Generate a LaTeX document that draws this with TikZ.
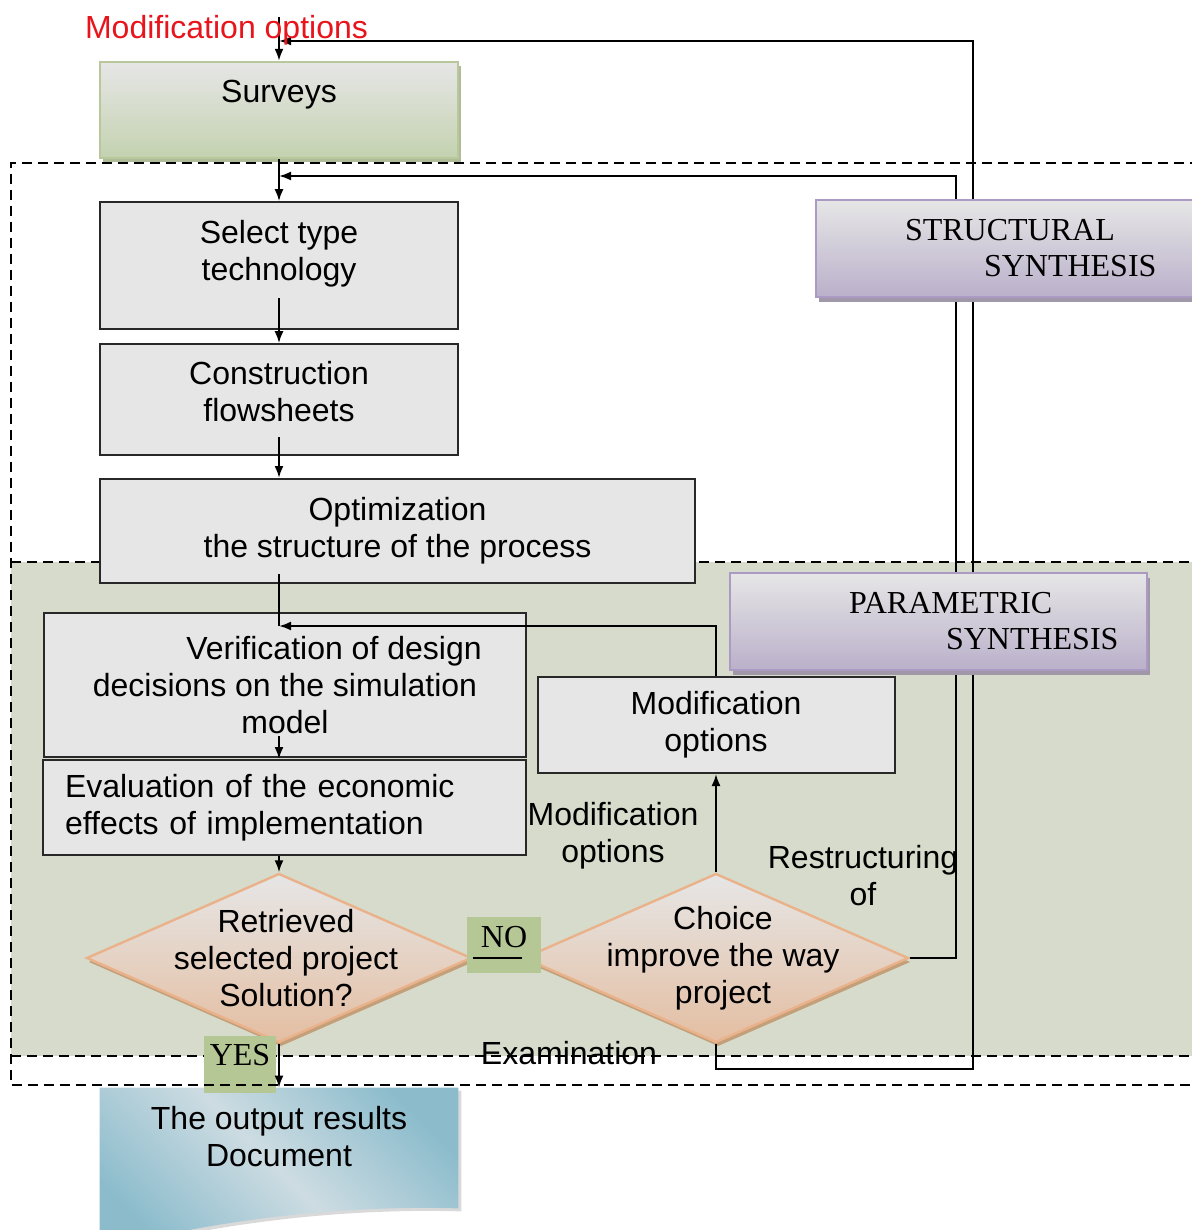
\documentclass[tikz,border=0pt]{standalone}
\usepackage{fontspec}
\setmainfont{Liberation Sans}
\newfontfamily\synthfont{Liberation Serif}
\usetikzlibrary{positioning, shapes.geometric, shadows, calc, backgrounds, arrows.meta}

\definecolor{boxfill}{RGB}{230,230,230}
\definecolor{boxline}{RGB}{40,40,40}
\definecolor{regionfill}{RGB}{215,219,203}
\definecolor{surveybot}{RGB}{196,210,176}
\definecolor{surveyline}{RGB}{184,200,154}
\definecolor{surveyshadow}{RGB}{176,188,152}
\definecolor{synthbot}{RGB}{186,176,202}
\definecolor{synthline}{RGB}{170,154,196}
\definecolor{synthshadow}{RGB}{160,152,168}
\definecolor{decbot}{RGB}{228,190,162}
\definecolor{decline}{RGB}{234,178,138}
\definecolor{decshadow}{RGB}{196,160,122}
\definecolor{tagfill}{RGB}{181,199,148}
\definecolor{docdark}{RGB}{140,188,204}
\definecolor{doclight}{RGB}{205,220,226}
\definecolor{redtext}{RGB}{232,20,28}

\pgfdeclarehorizontalshading{docshading}{100bp}{color(0bp)=(docdark); color(24bp)=(docdark); color(50bp)=(doclight); color(76bp)=(docdark); color(100bp)=(docdark)}

\begin{document}
\begin{tikzpicture}[
    x=0.5pt, y=-0.5pt, % one unit is one pixel of the sketch, y downwards
    font=\fontsize{16}{18.5}\selectfont,
    arrow/.style={
        -{Latex[length=6pt,width=4.5pt]},
        line width=1pt
    },
    link/.style={
        line width=1pt
    },
    frame/.style={ % dashed borders of the synthesis areas
        line width=1pt,
        dash pattern=on 5pt off 3pt
    },
    stage/.style={
        rectangle,
        draw=boxline,
        line width=1pt,
        fill=boxfill,
        align=center,
        inner sep=0pt
    },
    survey/.style={
        rectangle,
        draw=surveyline,
        line width=1.2pt,
        top color=boxfill,
        bottom color=surveybot,
        align=center,
        inner sep=0pt,
        drop shadow={shadow xshift=1.5pt, shadow yshift=-2pt, fill=surveyshadow, opacity=1}
    },
    synth/.style={
        rectangle,
        draw=synthline,
        line width=1.2pt,
        top color=boxfill,
        bottom color=synthbot,
        font=\synthfont\fontsize{16}{18}\selectfont,
        align=left,
        inner xsep=0pt,
        drop shadow={shadow xshift=1.5pt, shadow yshift=-2.5pt, fill=synthshadow, opacity=1}
    },
    decision/.style={
        diamond,
        aspect=2.28,
        draw=decline,
        line width=1.2pt,
        top color=boxfill,
        bottom color=decbot,
        align=center,
        inner sep=-15pt,
        drop shadow={shadow xshift=1pt, shadow yshift=-2pt, fill=decshadow, opacity=1}
    },
    tag/.style={ % YES / NO
        rectangle,
        fill=tagfill,
        inner sep=0pt,
        font=\synthfont\fontsize{16}{18}\selectfont
    },
    docshape/.style={
        shading=docshading,
        shading angle=45,
        drop shadow={shadow xshift=1.5pt, shadow yshift=-1.5pt, opacity=0.3}
    }
]
    \useasboundingbox (0,0) rectangle (1192,1230);

    % Parametric synthesis area
    \fill[regionfill] (11,562) rectangle (1200,1056);
    \draw[frame] (11,562) -- (1200,562) (11,1056) -- (1200,1056);

    % Main column
    \node[survey, minimum width=179pt, minimum height=48pt] (surveys) at (279,110) {Surveys\\\mbox{}};
    \node[stage, minimum width=179pt, minimum height=63.5pt, below=21pt of surveys] (select) {Select type\\technology\\[-3.4pt]\mbox{}};
    \node[stage, minimum width=179pt, minimum height=55.5pt, below=6.5pt of select] (constr) {Construction\\flowsheets\\[-10.4pt]\mbox{}};
    \node[stage, minimum width=297.5pt, minimum height=52pt] (optim) at (397.5,531) {Optimization\\the structure of the process};
    \node[stage, minimum width=241pt, minimum height=72pt] (verif) at (285,685) {\hspace*{49pt}Verification of design\\decisions on the simulation\\model};
    \node[stage, text width=219.5pt, inner xsep=11pt, minimum height=47.5pt, align=left] (evalu) at (284.5,807.5) {Evaluation of the economic\\effects of implementation};

    % Decisions
    \node[decision, minimum width=192.5pt, minimum height=84.5pt] (ret) at (279,958) {\hspace*{7pt}Retrieved\\\hspace*{7pt}selected project\\\hspace*{7pt}Solution?};
    \node[decision, minimum width=192.5pt, minimum height=84.5pt] (choice) at (716,958) {\hspace*{7pt}Choice\\\hspace*{7pt}improve the way\\\hspace*{7pt}project};
    \node[stage, minimum width=178.5pt, minimum height=48pt] (modif) at (716,725) {Modification\\options};

    \node[tag, minimum width=37pt, minimum height=28pt, text depth=8pt] (no) at (504,945) {NO};
    \node[tag, minimum width=36pt, minimum height=28.5pt, text depth=9.5pt] (yes) at (240,1064.5) {YES};

    % Join points on the main column
    \coordinate (topin) at (279,17);
    \coordinate (examin) at (279,41);
    \coordinate (restrin) at (279,176);
    \coordinate (modin) at (279,626);

    \draw[arrow] (topin) -- (surveys.north);
    \draw[arrow] (surveys.south) -- (select.north);
    \draw[arrow] ([yshift=16pt]select.south) -- (constr.north);
    \draw[arrow] ([yshift=9.5pt]constr.south) -- (constr.south |- optim.north);
    \draw[link] ([yshift=5pt]optim.south -| modin) -- (modin);
    \draw[arrow] ([yshift=11pt]verif.south -| ret.north) -- (evalu.north -| ret.north);
    \draw[arrow] (evalu.south -| ret.north) -- (ret.north);
    \draw[link] (ret.east) -- (choice.west);
    \draw[arrow] (choice.north) -- (modif.south);

    % Feedback loops
    \draw[arrow] (modif.north) |- (modin);
    \draw[arrow] (choice.east) -- ++(46,0) |- (restrin);
    \draw[arrow] (choice.south) -- ++(0,25) -- ++(257,0) |- (examin);

    % Synthesis labels
    \node[synth, minimum height=48.5pt, text width=200pt] (struct) at (1016,248.5) {\hspace*{44.5pt}STRUCTURAL\\\hspace*{84pt}SYNTHESIS};
    \node[synth, minimum height=48.5pt, text width=208.5pt] (param) at (938.5,621.5) {\hspace*{59.5pt}PARAMETRIC\\\hspace*{108pt}SYNTHESIS};

    % Output document
    \node[align=center, minimum width=179pt, minimum height=60pt, inner sep=0pt] (out) at (279,1148) {The output results\\Document\\[-7pt]\mbox{}};
    \begin{scope}[on background layer]
        \path[docshape] (out.north west) -- (out.north east) -- (out.south east)
            .. controls ($(out.south east)+(-100,-3)$) and ($(out.south west)+(130,7)$) .. ($(out.south west)+(0,42)$) -- cycle;
    \end{scope}
    \draw[arrow] (ret.south) -- (out.north);

    % Structural synthesis area
    \draw[frame] (1200,163) -- (11,163) -- (11,1085) -- (1200,1085);

    % Connector labels
    \node[text=redtext] (redlabel) at (226.5,30) {Modification options};
    \node[align=center] (modlabel) at (613,836) {Modification\\options};
    \node[align=center] (restrlabel) at (863,875.5) {Restructuring\\of};
    \node (examlabel) at (569,1053) {Examination};
\end{tikzpicture}
\end{document}
